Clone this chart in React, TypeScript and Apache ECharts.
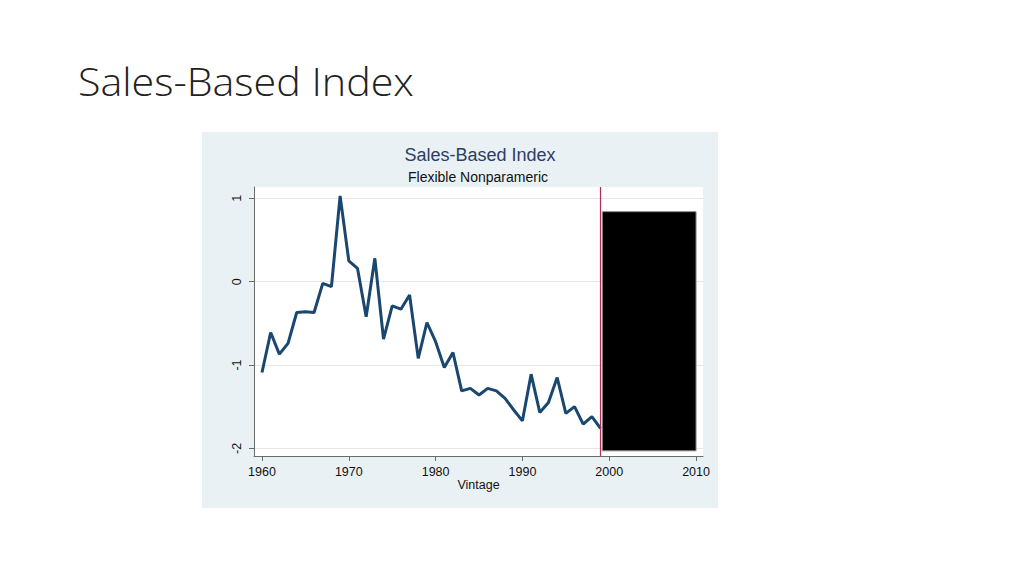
import React, { useEffect, useRef } from "react";
import * as echarts from "echarts";

const slideTitle = "Sales-Based Index";
const chartTitle = "Sales-Based Index";
const chartSubtitle = "Flexible Nonparameric";
const xAxisName = "Vintage";

const years = [
  1960, 1961, 1962, 1963, 1964, 1965, 1966, 1967, 1968, 1969,
  1970, 1971, 1972, 1973, 1974, 1975, 1976, 1977, 1978, 1979,
  1980, 1981, 1982, 1983, 1984, 1985, 1986, 1987, 1988, 1989,
  1990, 1991, 1992, 1993, 1994, 1995, 1996, 1997, 1998, 1999,
];
const indexValues = [
  -1.09, -0.61, -0.87, -0.74, -0.37, -0.36, -0.37, -0.02, -0.06, 1.03,
  0.25, 0.16, -0.42, 0.28, -0.69, -0.29, -0.33, -0.16, -0.92, -0.49,
  -0.72, -1.03, -0.85, -1.31, -1.28, -1.36, -1.28, -1.31, -1.4, -1.54,
  -1.67, -1.11, -1.57, -1.45, -1.15, -1.58, -1.5, -1.71, -1.62, -1.76,
];

const xTicks = [1960, 1970, 1980, 1990, 2000, 2010];
const yTicks = [-2, -1, 0, 1];
const xRange = [1959.08, 2010.8];
const yRange = [-2.092, 1.136];
const cutoffYear = 1999;
const maskX = [1999.2, 2010];
const maskY = [-2.03, 0.84];

const FONT = "'Liberation Sans', Arial, sans-serif";

export default function App() {
  const ref = useRef<HTMLDivElement>(null);

  useEffect(() => {
    if (!ref.current) return;
    const chart = echarts.init(ref.current, undefined, { renderer: "svg" });
    const option: any = {
      animation: false,
      backgroundColor: "#ffffff",
      graphic: [
        {
          type: "rect",
          z: -100,
          shape: { x: 202, y: 132, width: 516, height: 376 },
          style: { fill: "#eaf1f4" },
        },
        {
          type: "text",
          x: 78,
          y: 81.5,
          scaleX: 1.085,
          style: {
            text: slideTitle,
            fill: "#222222",
            font: "300 38px 'Open Sans', Lato, sans-serif",
            verticalAlign: "middle",
            align: "left",
          },
        },
      ],
      title: [
        {
          text: chartTitle,
          left: 480,
          top: 146,
          textAlign: "center",
          padding: 0,
          textStyle: {
            color: "#2c3e63",
            fontSize: 18,
            fontWeight: "normal",
            fontFamily: FONT,
          },
        },
        {
          text: chartSubtitle,
          left: 478,
          top: 170,
          textAlign: "center",
          padding: 0,
          textStyle: {
            color: "#111111",
            fontSize: 14,
            fontWeight: "normal",
            fontFamily: FONT,
          },
        },
      ],
      grid: {
        left: 254,
        right: 321,
        top: 187,
        bottom: 120,
        show: true,
        backgroundColor: "#ffffff",
        borderWidth: 0,
      },
      xAxis: {
        type: "value",
        min: xRange[0],
        max: xRange[1],
        axisLine: { show: true, onZero: false, lineStyle: { color: "#6b6b6b", width: 1 } },
        axisTick: {
          show: true,
          length: 5,
          customValues: xTicks,
          lineStyle: { color: "#6b6b6b" },
        },
        axisLabel: {
          customValues: xTicks,
          formatter: (v: number) => String(v),
          color: "#111",
          fontSize: 12.5,
          fontFamily: FONT,
          margin: 9,
        },
        splitLine: { show: false },
        name: xAxisName,
        nameLocation: "middle",
        nameGap: 22,
        nameTextStyle: { color: "#111", fontSize: 12.5, fontFamily: FONT },
      },
      yAxis: {
        type: "value",
        min: yRange[0],
        max: yRange[1],
        axisLine: { show: true, onZero: false, lineStyle: { color: "#6b6b6b", width: 1 } },
        axisTick: {
          show: true,
          length: 5,
          customValues: yTicks,
          lineStyle: { color: "#6b6b6b" },
        },
        axisLabel: {
          customValues: yTicks,
          formatter: (v: number) => String(v),
          rotate: 90,
          color: "#111",
          fontSize: 12.5,
          fontFamily: FONT,
          margin: 11,
        },
        splitLine: {
          show: true,
          lineStyle: { color: "#e6e6e6", width: 1 },
        },
      },
      series: [
        {
          type: "line",
          data: years.map((y, i) => [y, indexValues[i]]),
          symbol: "none",
          lineStyle: { color: "#1a476f", width: 3 },
          z: 3,
          markLine: {
            silent: true,
            symbol: ["none", "none"],
            label: { show: false },
            lineStyle: { color: "#b0305a", width: 1.2, type: "solid" },
            data: [{ xAxis: cutoffYear }],
          },
          markArea: {
            silent: true,
            z: 4,
            itemStyle: { color: "#000000", borderColor: "#8a8a8a", borderWidth: 1, opacity: 1 },
            data: [
              [
                { coord: [maskX[0], maskY[1]] },
                { coord: [maskX[1], maskY[0]] },
              ],
            ],
          },
        },
      ],
    };
    chart.setOption(option);
    return () => chart.dispose();
  }, []);

  return (
    <div
      ref={ref}
      style={{ position: "fixed", left: 0, top: 0, width: 1024, height: 576 }}
    />
  );
}
